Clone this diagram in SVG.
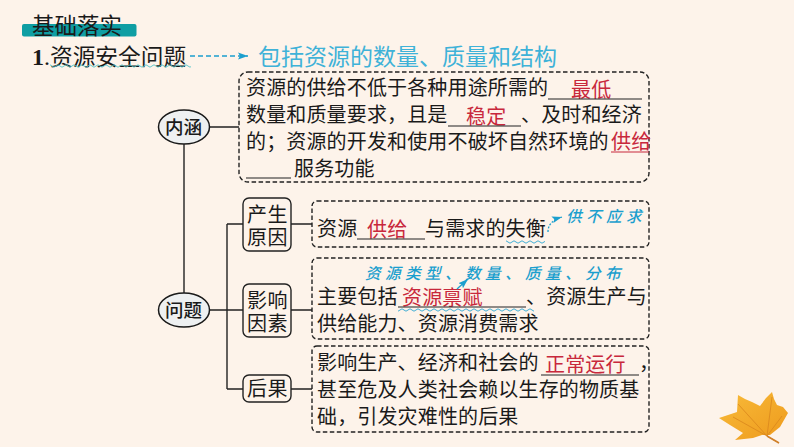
<svg xmlns="http://www.w3.org/2000/svg" width="794" height="447" viewBox="0 0 794 447">
<style>
text{font-family:"Noto Sans CJK SC","Noto Sans CJK JP",sans-serif;fill:#1a1a1a;font-size:20px;letter-spacing:.15px}
.red{fill:#c8283c}
.blue{fill:#3fb2d8;font-size:23px;letter-spacing:0}
.note{fill:#1b9fce;font-size:15.500px;font-style:italic;font-weight:500;letter-spacing:4.500px}
.head{font-size:22.500px;letter-spacing:0}
.ell{fill:#eef0f1;stroke:#1a1a1a;stroke-width:1.5}
.ell-t{font-size:18.500px;font-weight:500;letter-spacing:0}
.tag{fill:#fdf3ea;stroke:#222;stroke-width:1.4}
.tag-t{letter-spacing:.5px}
.box{fill:#fdf3ea;stroke:#222;stroke-width:1.4;stroke-dasharray:4.500 2.500}
.u{stroke:#222;stroke-width:1.1;fill:none}
.c{stroke:#222;stroke-width:1.4;fill:none}
.ar{stroke:#1b9fce;stroke-width:1.3;fill:none}
</style>
<defs>
<pattern id="wc" patternUnits="userSpaceOnUse" width="8" height="4"><path d="M0 2q2-2.400 4 0t4 0" fill="none" stroke="#52c4c8" stroke-width=".9"/></pattern>
<pattern id="wb" patternUnits="userSpaceOnUse" width="8" height="4"><path d="M0 2q2-2.400 4 0t4 0" fill="none" stroke="#2aa5d0" stroke-width=".9"/></pattern>
<marker id="ah" markerUnits="userSpaceOnUse" markerWidth="11" markerHeight="8" refX="10" refY="4" orient="auto"><path d="M0 .5L10 4L0 7.500L2 4z" fill="#1b9fce"/></marker>
<linearGradient id="leaf" x1="0" y1="0" x2="1" y2="1"><stop offset="0" stop-color="#f8bb3a"/><stop offset="1" stop-color="#ee9a1c"/></linearGradient>
</defs>
<rect width="794" height="447" fill="#fdf3ea"/>

<g id="header">
<rect x="22" y="24" width="114.500" height="12.500" rx="2" fill="#0f9ea3"/>
<text class="head" x="32" y="34">基础落实</text>
</g>
<g id="title">
<text x="32" y="65" style="font-family:'Liberation Serif',serif;font-weight:700;font-size:24px">1</text>
<text x="44" y="65" style="font-family:'Liberation Serif',serif;font-size:24px">.</text>
<text class="head" x="50" y="65" style="font-size:22.700px">资源安全问题</text>
<rect x="50" y="64" width="141" height="4" fill="url(#wc)"/>
</g>
<g id="scope">
<text class="blue" x="258" y="65">包括资源的数量、质量和结构</text>
</g>

<g id="node-neihan">
<ellipse class="ell" cx="184" cy="127" rx="25.500" ry="17"/>
<text class="ell-t" x="165" y="134">内涵</text>
</g>
<g id="node-wenti">
<ellipse class="ell" cx="184" cy="310" rx="25.500" ry="17"/>
<text class="ell-t" x="165" y="317">问题</text>
</g>

<g id="box-neihan">
<rect class="box" x="239" y="72" width="410" height="110" rx="9"/>
<text x="246" y="95">资源的供给不低于各种用途所需的</text>
<text class="red" x="571" y="97">最低</text>
<path class="u" d="M548 99H642"/>
<text x="246" y="122">数量和质量要求&#xFF0C;且是</text>
<text class="red" x="466" y="124">稳定</text>
<path class="u" d="M448 126H521"/>
<text x="521" y="122">、及时和经济</text>
<text x="246" y="149">的&#xFF1B;资源的开发和使用不破坏自然环境的</text>
<text class="red" x="611" y="149">供给</text>
<path class="u" d="M611 152H649" style="stroke:#c8283c"/>
<path class="u" d="M246 178H291"/>
<text x="294" y="176">服务功能</text>
</g>

<g id="node-chansheng">
<rect class="tag" x="243" y="198" width="48" height="53" rx="6"/>
<text class="tag-t" x="247" y="222">产生</text>
<text class="tag-t" x="247" y="245">原因</text>
</g>
<g id="node-yingxiang">
<rect class="tag" x="243" y="284" width="48" height="53" rx="6"/>
<text class="tag-t" x="247" y="308">影响</text>
<text class="tag-t" x="247" y="331">因素</text>
</g>
<g id="node-houguo">
<rect class="tag" x="243" y="375" width="48" height="27" rx="6"/>
<text class="tag-t" x="247" y="396">后果</text>
</g>

<g id="box-chansheng">
<rect class="box" x="312" y="201" width="337" height="46" rx="5"/>
<text x="317" y="236">资源</text>
<text class="red" x="367" y="237">供给</text>
<path class="u" d="M357 239H425"/>
<text x="425" y="236">与需求的失衡</text>
<rect x="506" y="240" width="39" height="4" fill="url(#wb)"/>
<text class="note" x="566" y="222">供不应求</text>
</g>

<g id="box-yingxiang">
<rect class="box" x="312" y="258" width="337" height="81" rx="5"/>
<text class="note" x="365" y="279">资源类型、数量、质量、分布</text>
<text x="317" y="304">主要包括</text>
<text class="red" x="402" y="305">资源禀赋</text>
<path class="u" d="M398 307H526"/>
<rect x="398" y="308" width="136" height="4" fill="url(#wb)"/>
<text x="526" y="304">、资源生产与</text>
<text x="317" y="331">供给能力、资源消费需求</text>
</g>

<g id="box-houguo">
<rect class="box" x="312" y="346" width="337" height="86" rx="5"/>
<text x="317" y="370">影响生产、经济和社会的</text>
<text class="red" x="545" y="372">正常运行</text>
<path class="u" d="M541 375H639"/>
<text x="639" y="370">&#xFF0C;</text>
<text x="317" y="397">甚至危及人类社会赖以生存的物质基</text>
<text x="317" y="424">础&#xFF0C;引发灾难性的后果</text>
</g>

<g id="connectors">
<path class="ar" d="M190 56H248" stroke-dasharray="5 3" marker-end="url(#ah)"/>
<path class="c" d="M184 144V293M210 127H239M210 310H243M227 224V389M227 224H243M227 389H243M291 224H312M291 310H312M291 389H312"/>
<path class="ar" d="M548 232Q548 221 562 217" stroke-dasharray="2 1.500" marker-end="url(#ah)"/>
<path class="ar" d="M457 289L468 279" marker-end="url(#ah)"/>
</g>

<g id="leaf-decoration">
<path d="M719 418L737 412L738 395L745 399L752 402L760 406L766 398L772 392L774 399L777 405L783 407L788 413L784 420L780 427L770 435L762 435L753 438L735 440L743 433L730 425Z" fill="url(#leaf)"/>
<path d="M733 417L767 436L779 443M738 404L767 436M772 397L767 436M782 416L767 436" stroke="#d9861d" stroke-width=".8" fill="none"/>
<path d="M767 436L779 443" stroke="#d0802a" stroke-width="1.800" fill="none"/>
</g>
</svg>
